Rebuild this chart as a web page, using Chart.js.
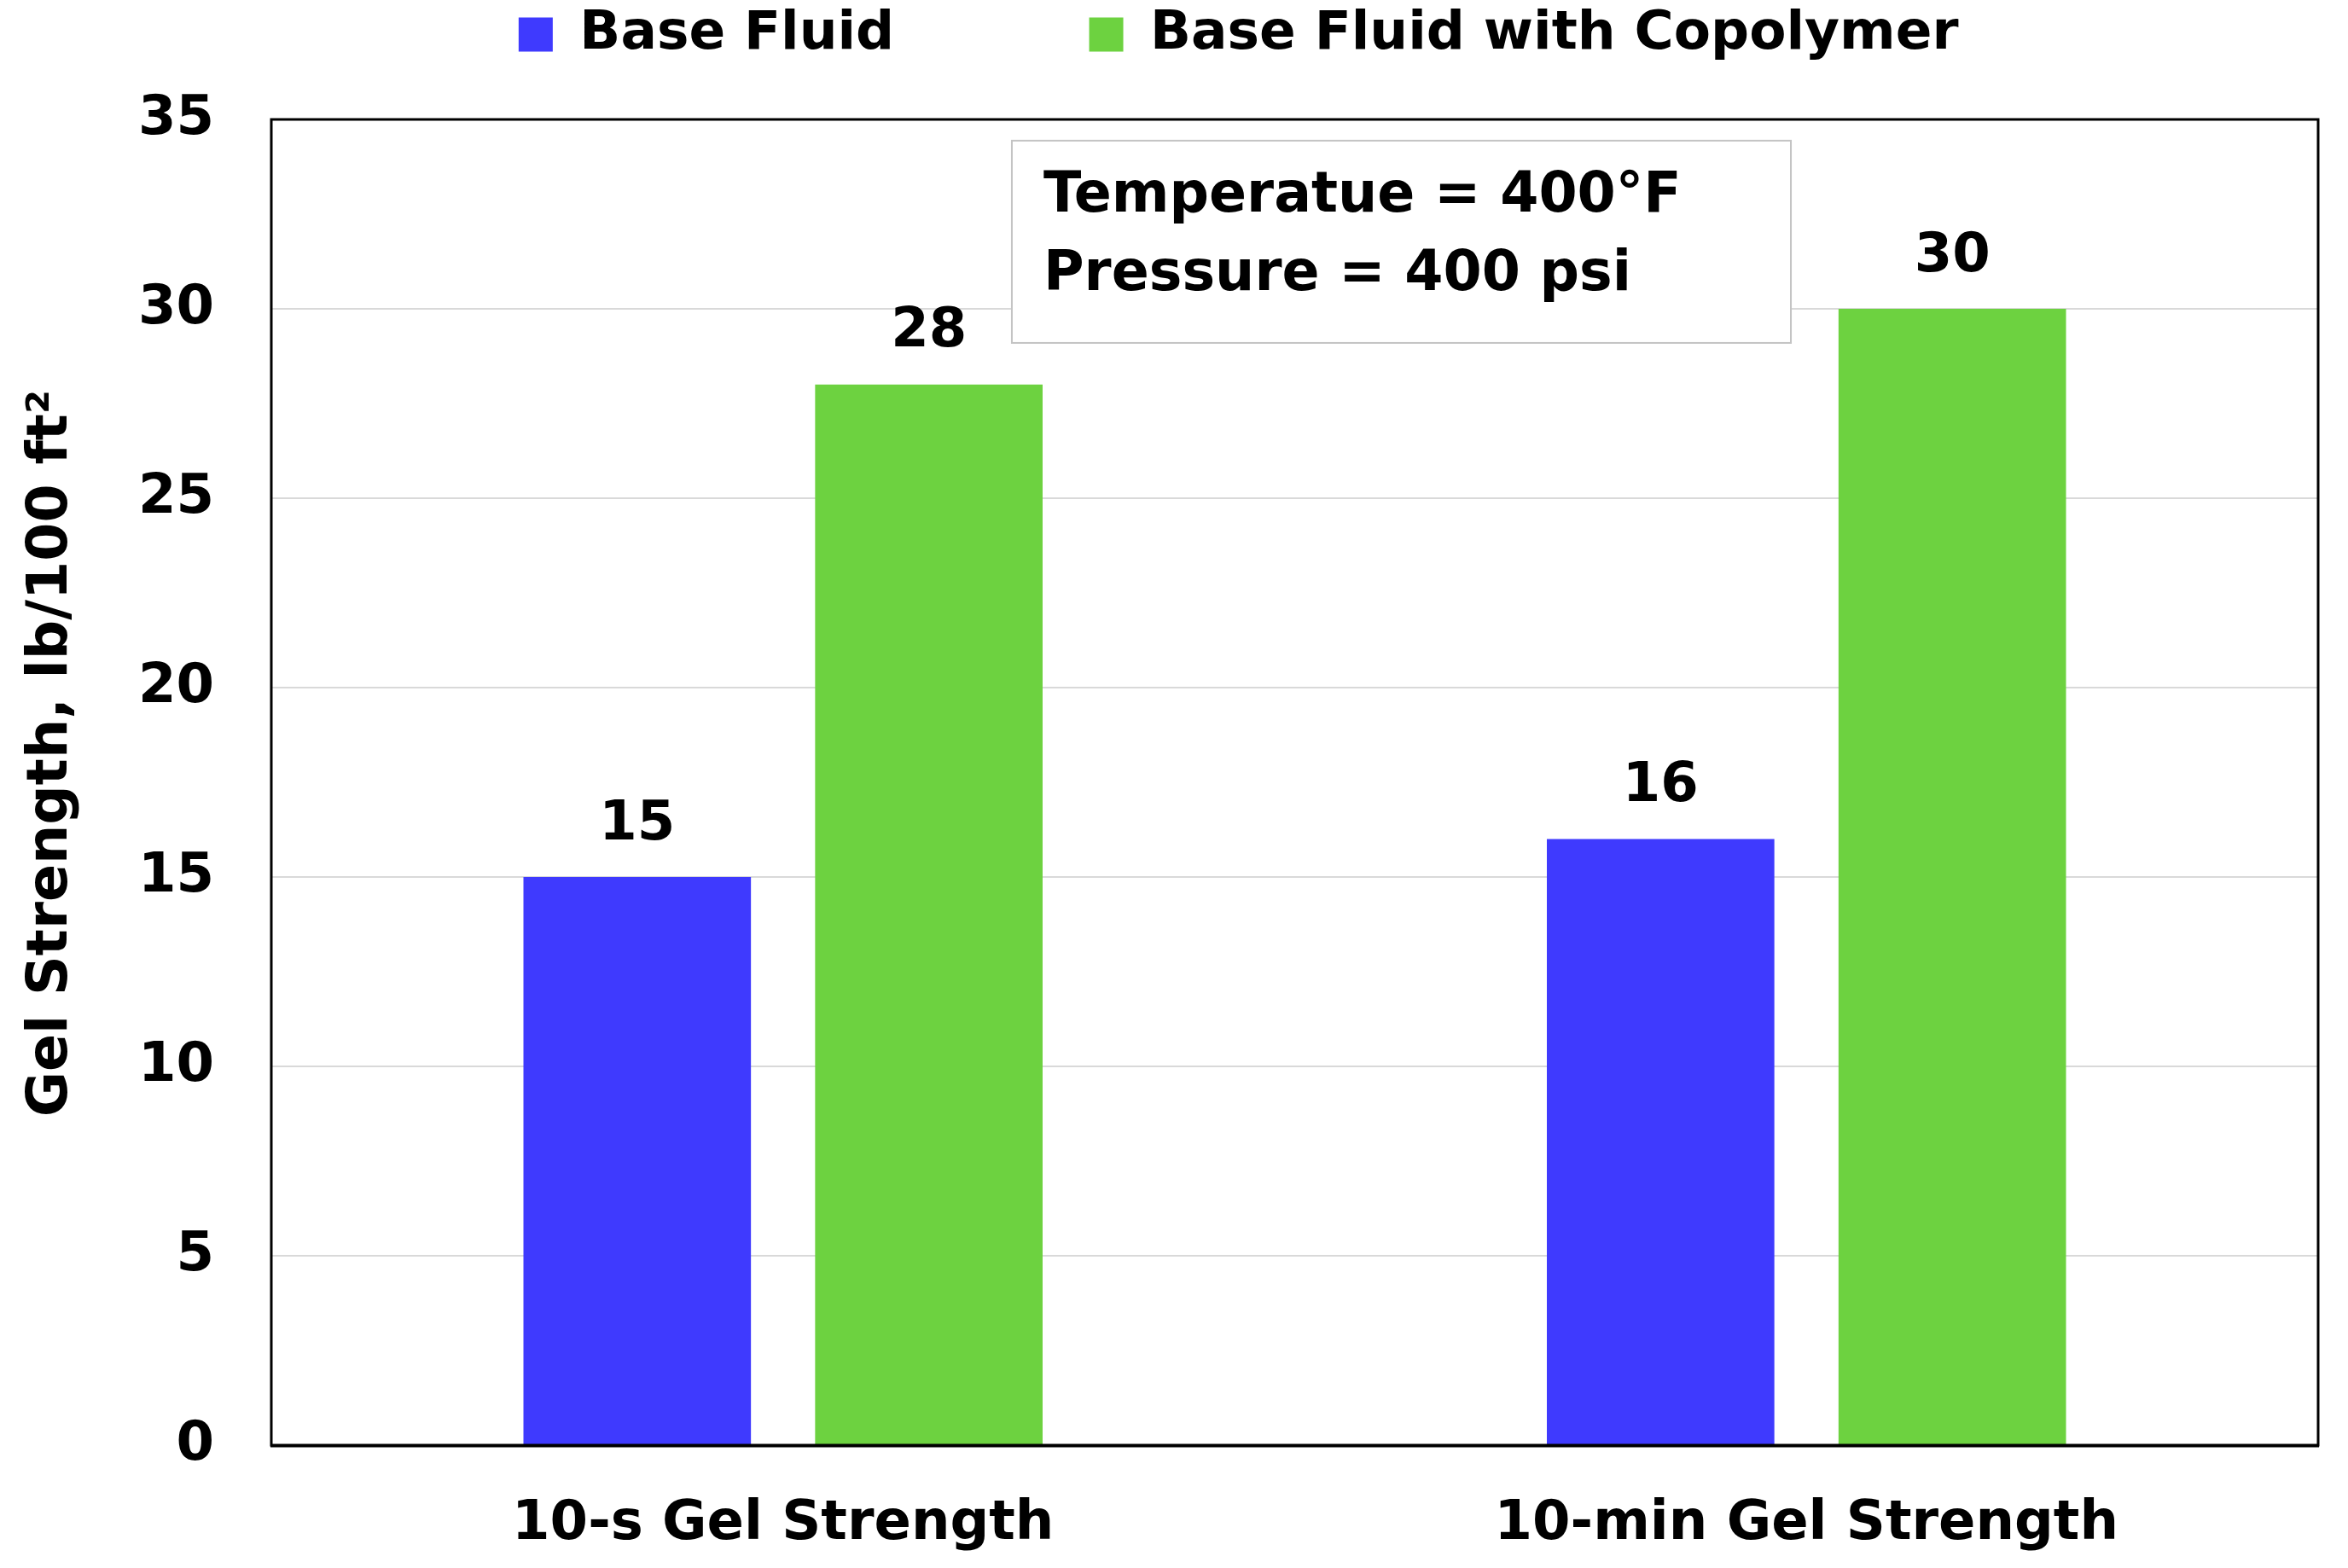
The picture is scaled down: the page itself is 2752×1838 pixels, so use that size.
<!DOCTYPE html>
<html>
<head>
<meta charset="utf-8">
<script src="https://cdn.jsdelivr.net/npm/chart.js@4"></script>
<style>
  html, body { margin: 0; padding: 0; background: #fff; }
  #wrap { width: 2752px; height: 1838px; }
</style>
</head>
<body>
<div id="wrap"><canvas id="c" width="2752" height="1838"></canvas></div>
<script>
const categories = ["10-s Gel Strength", "10-min Gel Strength"];
const baseFluid = [15, 16];
const withCopolymer = [28, 30];
const seriesNames = ["Base Fluid", "Base Fluid with Copolymer"];
const yTicks = [0, 5, 10, 15, 20, 25, 30, 35];
const yTitle = "Gel Strength, lb/100 ft\u00B2";
const noteLines = ["Temperatue = 400\u00B0F", "Pressure = 400 psi"];

const FONT = "'DejaVu Sans', Verdana, sans-serif";
const BLUE = "#3f3afe";
const GREEN = "#6dd240";

const legendToTop = {
  id: "legendToTop",
  beforeDraw(chart) {
    const lg = chart.legend;
    if (lg) { const h = lg.height; lg.top = 0; lg.bottom = h; }
  }
};

const frameAndLabels = {
  id: "frameAndLabels",
  afterDatasetsDraw(chart) {
    const ctx = chart.ctx;
    const ca = chart.chartArea;
    const y = chart.scales.y;
    // note box
    const bx1 = ca.left + 0.3618 * (ca.right - ca.left);
    const bx2 = ca.left + 0.7424 * (ca.right - ca.left);
    const by1 = y.getPixelForValue(34.44);
    const by2 = y.getPixelForValue(29.1);
    ctx.save();
    ctx.fillStyle = "#fff";
    ctx.fillRect(bx1, by1, bx2 - bx1, by2 - by1);
    ctx.strokeStyle = "#c4c4c4";
    ctx.lineWidth = 2;
    ctx.strokeRect(bx1, by1, bx2 - bx1, by2 - by1);
    ctx.fillStyle = "#000";
    ctx.font = "bold 65px " + FONT;
    ctx.textAlign = "left";
    ctx.textBaseline = "middle";
    ctx.fillText(noteLines[0], bx1 + 37, y.getPixelForValue(32.95));
    ctx.fillText(noteLines[1], bx1 + 37, y.getPixelForValue(30.88));
    // value labels
    ctx.font = "bold 64px " + FONT;
    ctx.textAlign = "center";
    chart.data.datasets.forEach((ds, di) => {
      const meta = chart.getDatasetMeta(di);
      meta.data.forEach((bar, i) => {
        ctx.fillText(String(ds.data[i]), bar.x, bar.y - 61);
      });
    });
    // frame
    ctx.strokeStyle = "#000";
    ctx.lineWidth = 3;
    ctx.strokeRect(ca.left, ca.top, ca.right - ca.left, ca.bottom - ca.top);
    ctx.beginPath();
    ctx.moveTo(ca.left - 1, ca.bottom + 1);
    ctx.lineTo(ca.right + 1, ca.bottom + 1);
    ctx.stroke();
    ctx.restore();
  }
};

new Chart(document.getElementById("c"), {
  type: "bar",
  data: {
    labels: categories,
    datasets: [
      { label: seriesNames[0] + "          ", data: baseFluid, backgroundColor: BLUE,
        categoryPercentage: 0.57, barPercentage: 0.78 },
      { label: seriesNames[1] + "      ", data: withCopolymer, backgroundColor: GREEN,
        categoryPercentage: 0.57, barPercentage: 0.78 }
    ]
  },
  options: {
    responsive: false,
    animation: false,
    devicePixelRatio: 1,
    layout: { padding: { top: 0, right: 35, bottom: 0, left: 0 } },
    plugins: {
      legend: {
        position: "top",
        fullSize: false,
        labels: {
          color: "#000",
          font: { family: FONT, size: 63, weight: "bold" },
          boxWidth: 40,
          boxHeight: 40,
          padding: 9
        }
      },
      tooltip: { enabled: false }
    },
    scales: {
      x: {
        grid: { display: false, drawTicks: false },
        border: { display: false },
        ticks: { color: "#000", font: { family: FONT, size: 64, weight: "bold" }, padding: 55, maxRotation: 0 },
        afterFit(s) { s.height = 144; }
      },
      y: {
        min: 0, max: 35,
        afterBuildTicks(s) { s.ticks = yTicks.map(v => ({ value: v })); },
        grid: { color: "#d9d9d9", lineWidth: 2, drawTicks: false },
        border: { display: false },
        ticks: { color: "#000", font: { family: FONT, size: 64, weight: "bold" }, padding: 67 },
        title: { display: true, text: "   " + yTitle, color: "#000",
                 font: { family: FONT, size: 65, weight: "bold" }, padding: { top: 22, bottom: 0 } },
        afterFit(s) { s.width = 318; s.paddingTop = 140; }
      }
    }
  },
  plugins: [legendToTop, frameAndLabels]
});
</script>
</body>
</html>
